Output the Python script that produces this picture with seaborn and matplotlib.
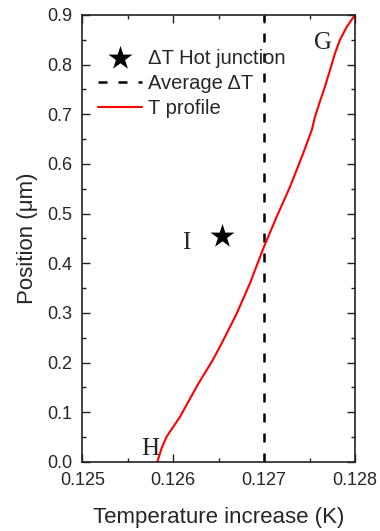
import numpy as np
import pandas as pd
import matplotlib
matplotlib.use('Agg')
import matplotlib.pyplot as plt
import seaborn as sns

# Temperature profile along the junction
profile_temp = [0.125825, 0.125873, 0.125928, 0.126075, 0.126259, 0.126314,
                0.126435, 0.126534, 0.126699, 0.126845, 0.126991, 0.127139,
                0.127285, 0.127431, 0.127524, 0.127560, 0.127607, 0.127670,
                0.127725, 0.127780, 0.127835, 0.127909, 0.128000]
profile_pos = [0.000, 0.028, 0.051, 0.091, 0.152, 0.169,
               0.205, 0.239, 0.299, 0.360, 0.430, 0.494,
               0.554, 0.622, 0.668, 0.695, 0.722, 0.756,
               0.789, 0.823, 0.850, 0.876, 0.900]

# Hot junction point and average temperature
hot_temp = [0.126534]
hot_pos = [0.455]
avg_temp = 0.127

# Point labels
point_names = ['G', 'H', 'I']
point_temp = [0.127651, 0.125752, 0.126141]
point_pos = [0.843, 0.027, 0.4415]

x_ticks = [0.125, 0.126, 0.127, 0.128]
y_ticks = [0.0, 0.1, 0.2, 0.3, 0.4, 0.5, 0.6, 0.7, 0.8, 0.9]

sns.set_style('ticks')
plt.rcParams['font.family'] = ['Liberation Sans', 'DejaVu Sans']

profile = pd.DataFrame({'temp': profile_temp, 'pos': profile_pos})
hot = pd.DataFrame({'temp': hot_temp, 'pos': hot_pos})

fig = plt.figure(figsize=(3.8, 5.31), dpi=100)
ax = fig.add_axes([0.2166, 0.130, 0.7176, 0.8418])

sns.scatterplot(data=hot, x='temp', y='pos', marker='*', s=330, color='black',
                edgecolor='black', linewidth=0, ax=ax, label='\u0394T Hot junction',
                zorder=3)
ax.axvline(avg_temp, color='black', linestyle=(0, (3.6, 4.4)), linewidth=1.8,
           label='Average \u0394T')
sns.lineplot(data=profile, x='temp', y='pos', color='red', linewidth=1.5,
             ax=ax, label='T profile', sort=False)

for name, tx, ty in zip(point_names, point_temp, point_pos):
    ax.text(tx, ty, name, family='Liberation Serif', fontsize=18,
            ha='center', va='center')

ax.set_xlim(0.125, 0.128)
ax.set_ylim(0.0, 0.9)
ax.set_xticks(x_ticks)
ax.set_xticklabels(['%.3f' % v for v in x_ticks])
ax.set_yticks(y_ticks)
ax.set_yticklabels(['%.1f' % v for v in y_ticks])
ax.set_xticks(np.arange(0.1255, 0.128, 0.001), minor=True)
ax.set_yticks(np.arange(0.05, 0.9, 0.1), minor=True)
ax.tick_params(which='both', direction='in', top=True, right=True,
               width=1.0, labelsize=13, color='#222222', pad=7)
ax.tick_params(which='major', length=5.8)
ax.tick_params(which='minor', length=3)
for sp in ax.spines.values():
    sp.set_linewidth(1.2)
    sp.set_color('#222222')

ax.set_xlabel('Temperature increase (K)', fontsize=16, labelpad=13)
ax.set_ylabel('Position (\u03bcm)', fontsize=16, labelpad=7)

ax.legend(loc='upper left', bbox_to_anchor=(0.013, 0.952), frameon=False,
          fontsize=14.5, handlelength=2.2, handletextpad=0.3, labelspacing=0.32,
          borderaxespad=0.2)

fig.savefig('out.png', dpi=100)
